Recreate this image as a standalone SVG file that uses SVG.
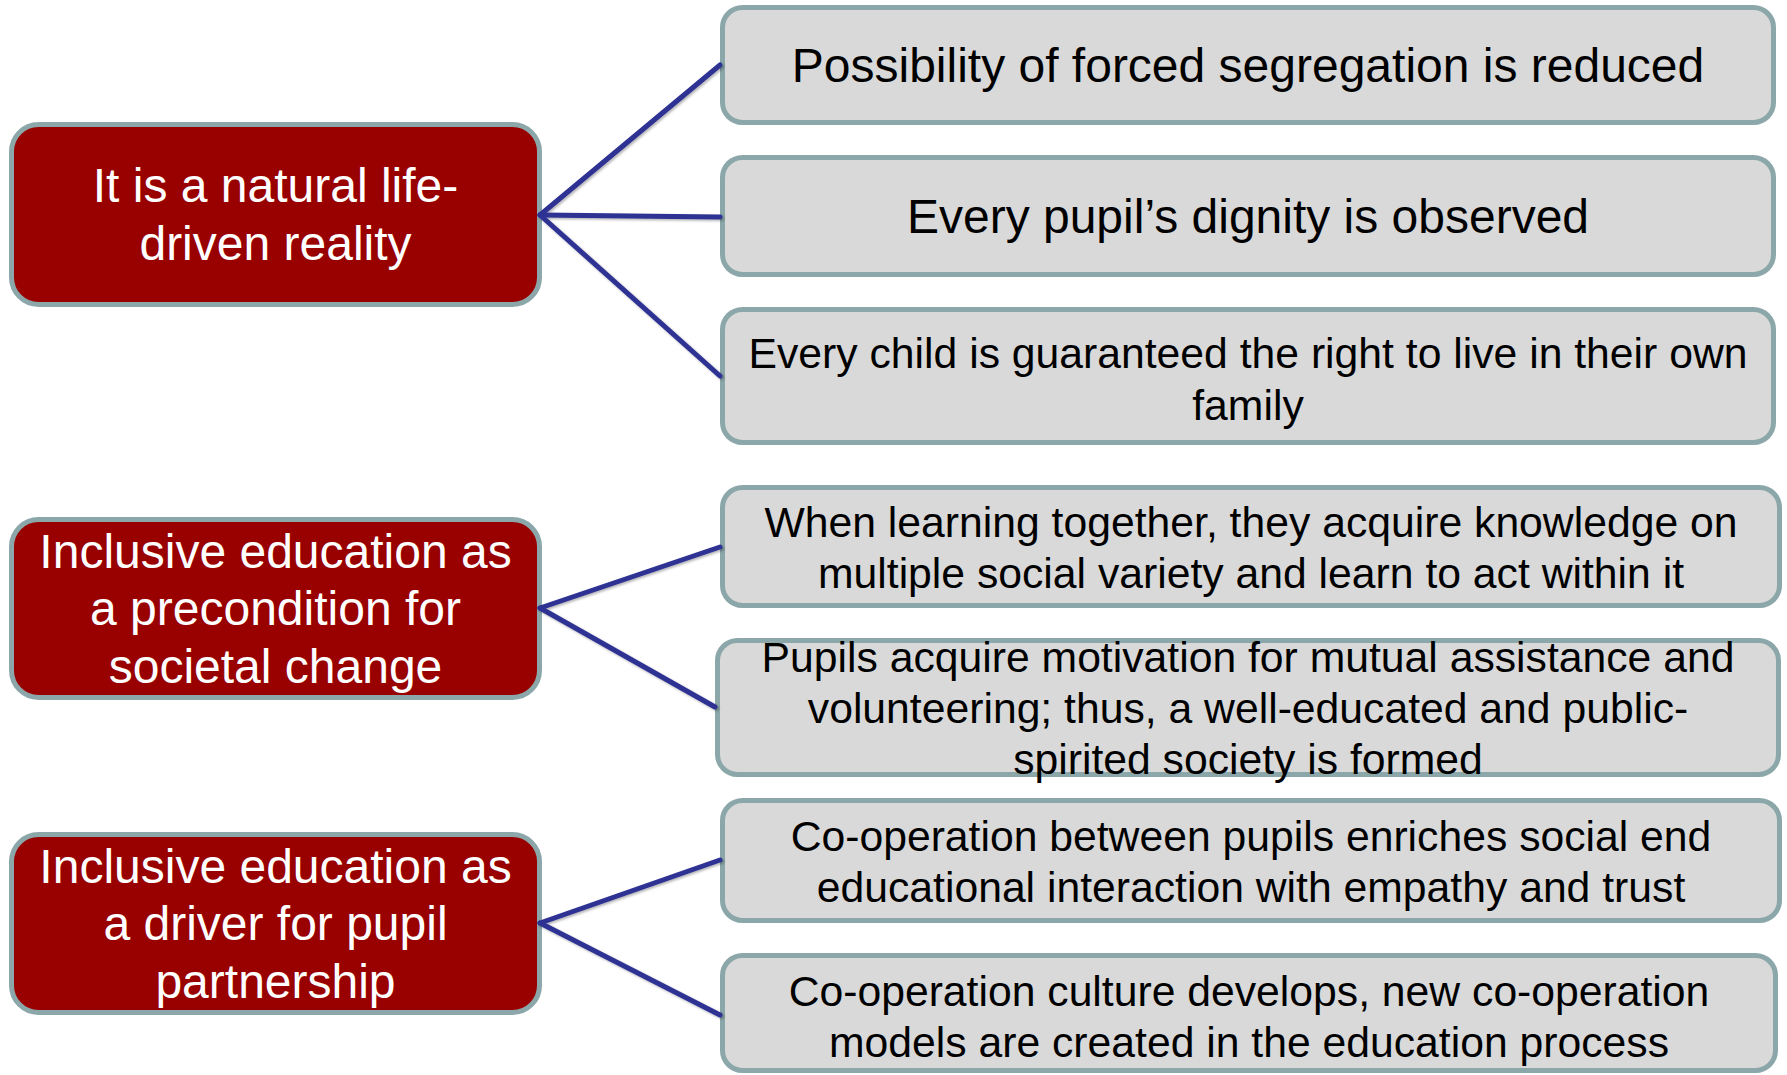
<svg xmlns="http://www.w3.org/2000/svg" width="1787" height="1075" viewBox="0 0 1787 1075">
  <defs>
    <style>
      .main rect { fill: #990000; stroke: #8CA7A9; stroke-width: 5; }
      .main text { fill: #FFFFFF; font-family: "Liberation Sans", Arial, sans-serif; font-size: 48px; text-anchor: middle; }
      .sub rect { fill: #D9D9D9; stroke: #8CA7A9; stroke-width: 5; }
      .sub text { fill: #000000; font-family: "Liberation Sans", Arial, sans-serif; font-size: 42.7px; text-anchor: middle; }
      .sub text.big { font-size: 48px; }
      #connectors line { stroke: #2E3192; stroke-width: 5; stroke-linecap: round; fill: none; }
    </style>
    <filter id="lineShadow" x="-10%" y="-10%" width="120%" height="120%">
      <feDropShadow dx="1.5" dy="1.5" stdDeviation="1.2" flood-color="#000000" flood-opacity="0.3"/>
    </filter>
  </defs>

  <rect x="0" y="0" width="1787" height="1075" fill="#FFFFFF"/>

  <!-- main topics (left column) -->
  <g id="main-natural" class="main">
    <rect x="11.5" y="124.5" width="528" height="180" rx="27" ry="27"/>
    <text x="275.5" y="202.3">It is a natural life-</text>
    <text x="275.5" y="260">driven reality</text>
  </g>
  <g id="main-societal" class="main">
    <rect x="11.5" y="519.5" width="528" height="178" rx="27" ry="27"/>
    <text x="275.5" y="567.5">Inclusive education as</text>
    <text x="275.5" y="625">a precondition for</text>
    <text x="275.5" y="682.7">societal change</text>
  </g>
  <g id="main-partnership" class="main">
    <rect x="11.5" y="834.5" width="528" height="178" rx="27" ry="27"/>
    <text x="275.5" y="882.5">Inclusive education as</text>
    <text x="275.5" y="940">a driver for pupil</text>
    <text x="275.5" y="997.7">partnership</text>
  </g>

  <!-- outcomes (right column) -->
  <g id="sub-segregation" class="sub">
    <rect x="722.5" y="7.5" width="1051" height="115" rx="20" ry="20"/>
    <text class="big" x="1248" y="82">Possibility of forced segregation is reduced</text>
  </g>
  <g id="sub-dignity" class="sub">
    <rect x="722.5" y="157.5" width="1051" height="117" rx="20" ry="20"/>
    <text class="big" x="1248" y="233">Every pupil’s dignity is observed</text>
  </g>
  <g id="sub-family" class="sub">
    <rect x="722.5" y="309.5" width="1051" height="133" rx="20" ry="20"/>
    <text x="1248" y="368">Every child is guaranteed the right to live in their own</text>
    <text x="1248" y="419.5">family</text>
  </g>
  <g id="sub-learning" class="sub">
    <rect x="722.5" y="487.5" width="1057" height="118" rx="20" ry="20"/>
    <text x="1251" y="537">When learning together, they acquire knowledge on</text>
    <text x="1251" y="588">multiple social variety and learn to act within it</text>
  </g>
  <g id="sub-motivation" class="sub">
    <rect x="717.5" y="640.5" width="1061" height="134" rx="20" ry="20"/>
    <text x="1248" y="672">Pupils acquire motivation for mutual assistance and</text>
    <text x="1248" y="723">volunteering; thus, a well-educated and public-</text>
    <text x="1248" y="774">spirited society is formed</text>
  </g>
  <g id="sub-cooperation" class="sub">
    <rect x="722.5" y="800.5" width="1057" height="120" rx="20" ry="20"/>
    <text x="1251" y="851">Co-operation between pupils enriches social end</text>
    <text x="1251" y="901.5">educational interaction with empathy and trust</text>
  </g>
  <g id="sub-culture" class="sub">
    <rect x="722.5" y="955.5" width="1053" height="115" rx="20" ry="20"/>
    <text x="1249" y="1006">Co-operation culture develops, new co-operation</text>
    <text x="1249" y="1056.5">models are created in the education process</text>
  </g>

  <!-- connectors -->
  <g id="connectors" filter="url(#lineShadow)">
    <line x1="540" y1="215" x2="720" y2="65"/>
    <line x1="540" y1="215" x2="720" y2="217"/>
    <line x1="540" y1="215" x2="720" y2="376"/>
    <line x1="540" y1="608" x2="720" y2="547"/>
    <line x1="540" y1="608" x2="715" y2="707"/>
    <line x1="540" y1="923" x2="720" y2="860"/>
    <line x1="540" y1="923" x2="720" y2="1015"/>
  </g>
</svg>
